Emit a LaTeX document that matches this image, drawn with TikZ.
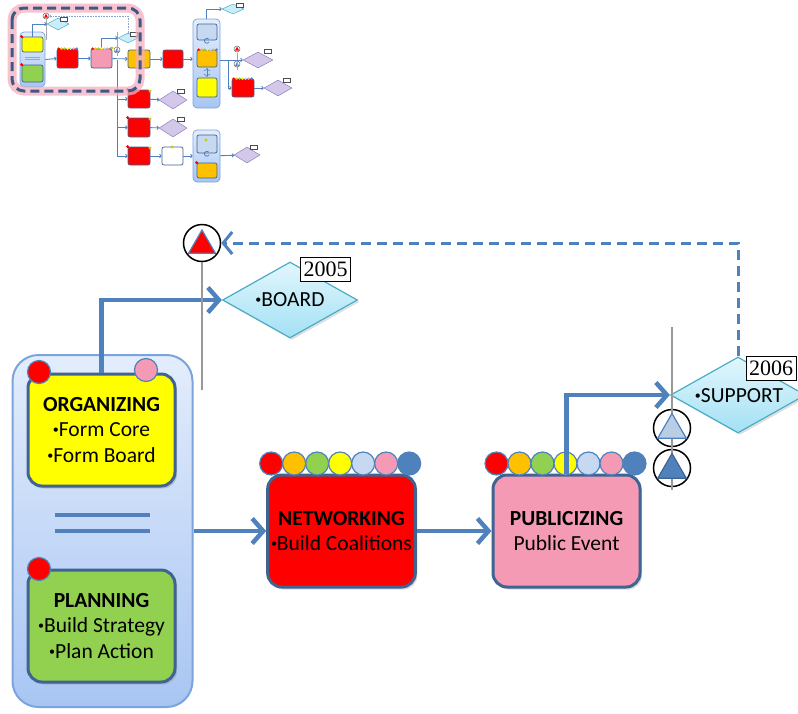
\documentclass[tikz,border=0pt]{standalone}
\usepackage{fontspec}
\setmainfont{Carlito}
\newfontfamily\yearfont{Liberation Serif}
\usetikzlibrary{arrows.meta,shapes.geometric,shadows}
\newcommand\dotmark{\raisebox{0.3ex}{\fontsize{12}{12}\selectfont•}}

\definecolor{flowblue}{HTML}{4F81BD}
\definecolor{edgeblue}{HTML}{3F6491}
\definecolor{panetop}{HTML}{E3EDFC}
\definecolor{panebot}{HTML}{A8C5F3}
\definecolor{paneedge}{HTML}{7BA4DC}
\definecolor{orgyellow}{HTML}{FFFF00}
\definecolor{plangreen}{HTML}{92D050}
\definecolor{netred}{HTML}{FF0000}
\definecolor{pubpink}{HTML}{F59AB5}
\definecolor{dotorange}{HTML}{FFC000}
\definecolor{dotsky}{HTML}{C6D9F1}
\definecolor{diatop}{HTML}{E2F6FD}
\definecolor{diabot}{HTML}{A3E1F4}
\definecolor{diaedge}{HTML}{4BACC6}
\definecolor{trisoft}{HTML}{B9CDE5}
\definecolor{glowpink}{HTML}{F4AFC0}
\definecolor{dashnavy}{HTML}{3C5A82}
\definecolor{lilac}{HTML}{D3C8EA}
\definecolor{lilacedge}{HTML}{8E80BE}

\tikzset{
  pane/.style={draw=paneedge,line width=2pt,rounded corners=26pt,top color=panetop,bottom color=panebot,minimum width=180pt,minimum height=352pt},
  stage/.style={draw=edgeblue,line width=3pt,rounded corners=14pt,minimum width=147pt,minimum height=112pt,align=center,font=\fontsize{21.5}{25.5}\selectfont,drop shadow={opacity=0.3,shadow xshift=2pt,shadow yshift=-2.5pt}},
  knob/.style={circle,draw=flowblue,line width=1.2pt,minimum size=23pt,inner sep=0pt},
  goal/.style={diamond,draw=diaedge,line width=1.2pt,top color=diatop,bottom color=diabot,minimum width=135pt,minimum height=76pt,inner sep=0pt,drop shadow={opacity=0.25,shadow xshift=2pt,shadow yshift=-2pt}},
  goaltext/.style={font=\fontsize{21.5}{24}\selectfont},
  yeartag/.style={draw=black,fill=white,line width=1pt,inner xsep=3pt,inner ysep=0pt,minimum height=24pt,font=\yearfont\fontsize{22}{22}\selectfont},
  flow/.style={draw=flowblue,line width=4.5pt,-{Straight Barb[length=11pt,width=25pt]}},
  recall/.style={draw=flowblue,line width=3pt,dash pattern=on 10pt off 6pt,-{Straight Barb[length=9pt,width=22pt]}},
  pole/.style={draw=black!40,line width=1.5pt},
  ring/.style={circle,draw=black,line width=1.5pt,minimum size=37pt,inner sep=0pt},
  flag/.style={regular polygon,regular polygon sides=3,draw=flowblue,line width=1.2pt,minimum size=31pt,inner sep=0pt},
  twin/.style={draw=flowblue,line width=4pt},
  tpane/.style={draw=paneedge,line width=0.7pt,rounded corners=4pt,top color=panetop,bottom color=panebot,inner sep=0pt},
  tbox/.style={draw=edgeblue,line width=0.7pt,rounded corners=2pt,inner sep=0pt},
  tgoal/.style={diamond,draw=diaedge,line width=0.5pt,fill=diatop!60!diabot,inner sep=0pt},
  tlilac/.style={diamond,draw=lilacedge,line width=0.5pt,fill=lilac,inner sep=0pt},
  ttag/.style={draw=black!70,fill=white,line width=0.4pt,minimum width=7pt,minimum height=4pt,inner sep=0pt},
  tring/.style={circle,draw=black!60,line width=0.5pt,minimum size=6pt,inner sep=0pt},
  tline/.style={draw=flowblue,line width=0.9pt,-{Straight Barb[length=1.5pt,width=3.5pt]}},
}

\begin{document}
\begin{tikzpicture}[x=1pt,y=-1pt]
\useasboundingbox (0,0) rectangle (798,713);

% overview of the whole plan
\node[tpane,minimum width=25pt,minimum height=55pt] (tC1) at (32.5,59.5) {};
\node[tbox,fill=orgyellow,minimum width=21pt,minimum height=15pt] (tOrg) at (32.5,44.5) {};
\node[tbox,fill=plangreen,minimum width=21pt,minimum height=17pt] (tPlan) at (32.5,73.5) {};
\draw[black!35,line width=0.6pt] (25,57) -- (40,57) (25,59) -- (40,59);
\node[tbox,fill=netred,minimum width=21pt,minimum height=19pt] (tNet) at (67.5,58.5) {};
\node[tbox,fill=pubpink,minimum width=21pt,minimum height=19pt] (tPub) at (101.5,58.5) {};
\node[tbox,fill=dotorange,minimum width=22pt,minimum height=18pt] (tMob) at (139,59) {};
\node[tbox,fill=netred,minimum width=20pt,minimum height=18pt] (tRed2) at (173,59) {};
\node[tpane,minimum width=27pt,minimum height=89pt] (tC2) at (206.5,63.5) {};
\node[tbox,fill=dotsky,minimum width=20pt,minimum height=16pt] (tMon) at (207,32) {};
\node[tbox,fill=dotorange,minimum width=20pt,minimum height=17pt] (tOr2) at (207,58.5) {};
\node[tbox,fill=orgyellow,minimum width=20pt,minimum height=19pt] (tYel2) at (207,87.5) {};
\draw[flowblue,line width=0.8pt] (209,42) arc (30:320:2.5);
\draw[flowblue,line width=0.6pt,<->] (207,68) -- (207,77);
\node[tbox,fill=netred,minimum width=22pt,minimum height=18pt] (tRed3) at (243,88) {};
\node[tbox,fill=netred,minimum width=22pt,minimum height=18pt] (tRow1) at (139,99) {};
\node[tbox,fill=netred,minimum width=22pt,minimum height=19pt] (tRow2) at (139,127.5) {};
\node[tbox,fill=netred,minimum width=22pt,minimum height=18pt] (tRow3) at (139,156) {};
\node[tbox,fill=white,minimum width=21pt,minimum height=18pt] (tWhite) at (172.5,156) {};
\node[tpane,minimum width=27pt,minimum height=52pt] (tC3) at (206.5,156) {};
\node[tbox,fill=dotsky,minimum width=20pt,minimum height=18pt] (tMon3) at (207,144) {};
\node[tbox,fill=dotorange,minimum width=20pt,minimum height=15pt] (tOr3) at (207,170.5) {};
\draw[flowblue,line width=0.8pt] (209,155) arc (30:320:2.5);
\node[tgoal,minimum width=22pt,minimum height=12pt] (tBoard) at (58,24) {};
\node[tgoal,minimum width=20pt,minimum height=10pt] (tSup) at (128,38) {};
\node[tgoal,minimum width=22pt,minimum height=10pt] (tTop) at (233,9) {};
\node[tlilac,minimum width=30pt,minimum height=16pt] (tL1) at (258,60) {};
\node[tlilac,minimum width=28pt,minimum height=16pt] (tL2) at (278,88) {};
\node[tlilac,minimum width=28pt,minimum height=18pt] (tL3) at (173,100) {};
\node[tlilac,minimum width=28pt,minimum height=18pt] (tL4) at (173,128) {};
\node[tlilac,minimum width=26pt,minimum height=16pt] (tL5) at (247,155) {};
\foreach \d/\p in {tBoard/{(64,19)},tSup/{(134,34)},tTop/{(240,5)},tL1/{(268,51)},tL2/{(287,80)},tL3/{(181,91)},tL4/{(181,119)},tL5/{(254,147)}}
  \node[ttag] (tag\d) at \p {};
\node[tring,fill=white] (tAlert) at (46,16) {};
\node[tring] (tGate) at (117,50) {};
\node[tring] (tAlert2) at (237,49) {};
\node[tring] (tGate2) at (237,64) {};
\fill[netred] (46,13.5) -- (48,17.5) -- (44,17.5) -- cycle;
\fill[netred] (237,46.5) -- (239,50.5) -- (235,50.5) -- cycle;
\fill[flowblue] (117,48) -- (119,52) -- (115,52) -- cycle;
\fill[flowblue] (237,62) -- (239,66) -- (235,66) -- cycle;
\coordinate (tSplit) at (117,60);
\coordinate (tFork) at (228,60);
\draw[black!35,line width=0.4pt] (tAlert.south) -- (46,40) (117,32) -- (117,56) (237,53) -- (237,70);
\draw[tline] (tC1.east) -- (tNet.west);
\draw[tline] (tNet) -- (tPub);
\draw[tline] (tPub) -- (tMob);
\draw[tline] (tMob) -- (tRed2);
\draw[tline] (tRed2.east) -- (tC2.west |- tRed2);
\draw[tline] (tC2.east |- tL1) -- (tL1.west);
\draw[tline] (tFork) |- (tRed3.west);
\draw[tline] (tRed3) -- (tL2);
\draw[tline] (tOrg.north) |- (tBoard.west);
\draw[tline] (tPub.north) |- (tSup.west);
\draw[tline] (tC2.north) |- (tTop.west);
\draw[tline] (tSplit) |- (tRow1.west);
\draw[tline] (tSplit) |- (tRow2.west);
\draw[tline] (tSplit) |- (tRow3.west);
\draw[tline] (tRow1) -- (tL3);
\draw[tline] (tRow2) -- (tL4);
\draw[tline] (tRow3) -- (tWhite);
\draw[tline] (tWhite) -- (tC3);
\draw[tline] (tC3) -- (tL5);
\draw[flowblue!70,line width=0.6pt,densely dotted,-{Straight Barb[length=1.5pt,width=3pt]}] (tSup.north) |- (tAlert.east);
\foreach \b in {tNet,tPub,tOr2,tRed3}
  \foreach \c [count=\i] in {netred,dotorange,plangreen,orgyellow,dotsky,pubpink,flowblue}
    \fill[\c] ([shift={(3*\i-1,0)}]\b.north west) circle (1.4);
\foreach \b in {tOrg,tPlan,tRow1,tRow2,tRow3,tOr3}
  \fill[netred] (\b.north west) circle (1.6);
\foreach \p in {(112,48),(206,140),(172,147),(150,91),(150,119),(150,148)}
  \fill[orgyellow!80!black] \p circle (1.6);
\draw[glowpink,line width=9pt,rounded corners=12pt,opacity=0.75] (12,8) rectangle (140,91);
\draw[dashnavy,line width=3pt,rounded corners=12pt,dash pattern=on 9pt off 5pt] (12,8) rectangle (140,91);

% detail of the first steps
\node[pane] (hub) at (102.5,531) {};
\draw[twin] (55,515) -- (150,515) (55,531) -- (150,531);
\node[stage,fill=orgyellow] (org) at (101.5,430) {\textbf{ORGANIZING}\\\dotmark Form Core\\\dotmark Form Board};
\node[stage,fill=plangreen] (plan) at (101.5,626) {\textbf{PLANNING}\\\dotmark Build Strategy\\\dotmark Plan Action};
\node[knob,fill=netred] (orgred) at (39,372) {};
\node[knob,fill=pubpink] (orgpink) at (146,370) {};
\node[knob,fill=netred] (planred) at (39,569) {};

\node[stage,fill=netred] (net) at (341.5,531) {\textbf{NETWORKING}\\\dotmark Build Coalitions};
\node[stage,fill=pubpink] (pub) at (566.5,531) {\textbf{PUBLICIZING}\\Public Event};
\foreach \c [count=\i] in {netred,dotorange,plangreen,orgyellow,dotsky,pubpink,flowblue}{
  \node[knob,fill=\c] (netdot\i) at ([shift={(5+23*\i-23,-10)}]net.north west) {};
  \node[knob,fill=\c] (pubdot\i) at ([shift={(5+23*\i-23,-10)}]pub.north west) {};
}
\draw[flow] (hub.east) -- (net.west);
\draw[flow] (net.east) -- (pub.west);

\node[goal] (board) at (290,300) {};
\node[goaltext] (boardtxt) at (board) {\dotmark BOARD};
\node[yeartag] (year05) at (325.5,269.5) {2005};
\draw[flow] (org.north) |- (board.west);

\node[goal] (support) at (738,395) {};
\node[goaltext] (supporttxt) at (739,396) {\dotmark SUPPORT};
\node[yeartag] (year06) at (771,368) {2006};
\draw[flow] (pub.north) |- (support.west);

\node[ring] (alert) at (202,243) {};
\coordinate (alertfoot) at (202,390);
\draw[pole] (alert.south) -- (alertfoot);
\node[flag,fill=netred] (alertflag) at (202,245.5) {};

\node[ring] (gate1) at (672,428) {};
\node[ring] (gate2) at (672,468) {};
\coordinate (gatetop) at (672,327);
\coordinate (gatefoot) at (672,490);
\draw[pole] (gatetop) -- (gatefoot);
\node[flag,fill=trisoft,minimum size=33pt] (gateflag1) at (672,430) {};
\node[flag,fill=flowblue,draw=edgeblue,minimum size=33pt] (gateflag2) at (672,470) {};

\draw[recall] (support.north) |- (alert.east);
\end{tikzpicture}
\end{document}
